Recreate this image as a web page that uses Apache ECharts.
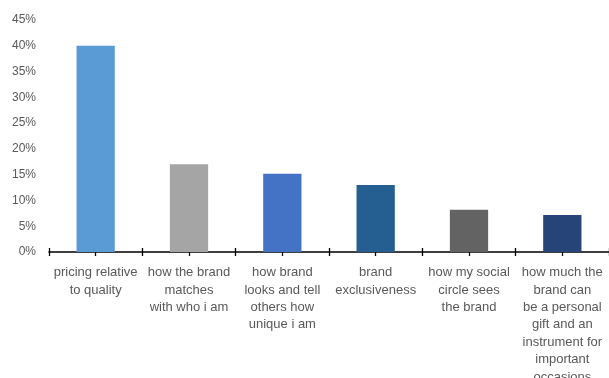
<!DOCTYPE html>
<html>
<head>
<meta charset="utf-8">
<script src="https://cdn.jsdelivr.net/npm/echarts@6/dist/echarts.min.js"></script>
<style>
  html, body { margin: 0; padding: 0; background: #fff; }
  #chart { width: 609px; height: 378px; }
</style>
</head>
<body>
<div id="chart"></div>
<script>
// Purchase drivers and the share of respondents naming each one
const categories = [
  'pricing relative\nto quality',
  'how the brand\nmatches\nwith who i am',
  'how brand\nlooks and tell\nothers how\nunique i am',
  'brand\nexclusiveness',
  'how my social\ncircle sees\nthe brand',
  'how much the\nbrand can\nbe a personal\ngift and an\ninstrument for\nimportant\noccasions'
];
const shares = [0.40, 0.17, 0.152, 0.13, 0.082, 0.072];
const barColors = ['#5B9BD5', '#A5A5A5', '#4472C4', '#255E91', '#636363', '#264478'];

const FONT = '"Liberation Sans", "DejaVu Sans", sans-serif';
const TEXT = '#595959';

// Ticks cross the axis line: a hidden-line axis shifted up carries them.
function tickAxis(centered) {
  return {
    type: 'category',
    data: categories,
    gridIndex: 0,
    position: 'bottom',
    offset: -4,
    boundaryGap: true,
    axisLine: { show: false },
    axisLabel: { show: false, interval: 0 },
    axisTick: { show: true, interval: 0, length: 8, alignWithLabel: centered, lineStyle: { color: '#000', width: 1.3 } },
    splitLine: { show: false }
  };
}

const chart = echarts.init(document.getElementById('chart'), null, { renderer: 'canvas' });
chart.setOption({
  animation: false,
  backgroundColor: '#fff',
  grid: { left: 49, right: 0, top: 20, bottom: 126, containLabel: false, outerBoundsMode: 'none' },
  xAxis: [
    {
      type: 'category',
      data: categories,
      position: 'bottom',
      boundaryGap: true,
      axisLine: { show: true, lineStyle: { color: '#000', width: 1.5 } },
      axisTick: { show: false },
      axisLabel: {
        interval: 0,
        margin: 12,
        color: TEXT,
        fontFamily: FONT,
        fontSize: 13,
        lineHeight: 17.4,
        align: 'center'
      },
      splitLine: { show: false }
    },
    tickAxis(false),
    tickAxis(true)
  ],
  yAxis: {
    type: 'value',
    min: 0,
    max: 0.45,
    interval: 0.05,
    axisLine: { show: false },
    axisTick: { show: false },
    splitLine: { show: false },
    axisLabel: {
      margin: 13,
      color: TEXT,
      fontFamily: FONT,
      fontSize: 12,
      formatter: v => Math.round(v * 100) + '%'
    }
  },
  series: [{
    type: 'bar',
    xAxisIndex: 0,
    data: shares.map((v, i) => ({ value: v, itemStyle: { color: barColors[i] } })),
    barWidth: '41%'
  }]
});
</script>
</body>
</html>
